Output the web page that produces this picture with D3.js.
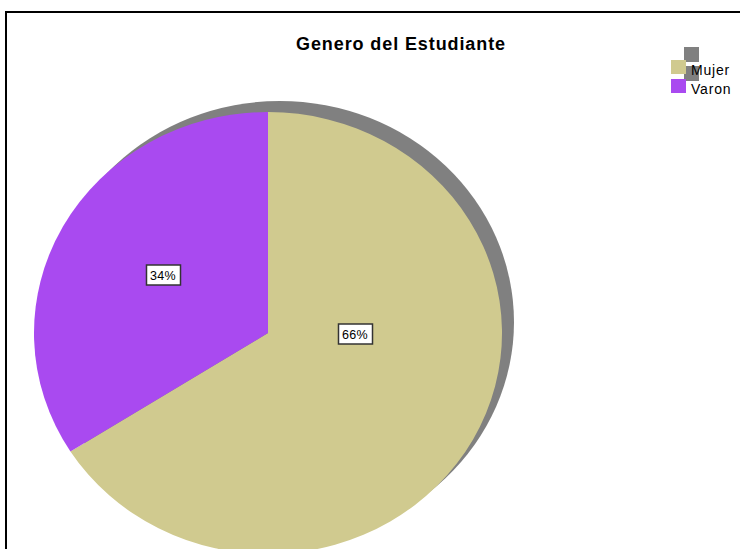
<!DOCTYPE html>
<html>
<head>
<meta charset="utf-8">
<script src="https://cdn.jsdelivr.net/npm/d3@7"></script>
<style>
  body { margin: 0; background: #fff; }
  text { font-family: "Liberation Sans", Arial, sans-serif; }
</style>
</head>
<body>
<div id="chart"></div>
<script>
// data
var categories = ['Mujer', 'Varon'];
var percents = [66, 34];
var colors = ['#D0CA8F', '#A94AF0'];

var svgWidth = 740;
var svgHeight = 549;

var svg = d3.select('#chart')
  .append('svg')
  .attr('width', svgWidth)
  .attr('height', svgHeight);

// frame
svg.append('rect')
  .attr('x', 6)
  .attr('y', 12)
  .attr('width', 800)
  .attr('height', 700)
  .attr('fill', 'none')
  .attr('stroke', '#000')
  .attr('stroke-width', 2);

// title
svg.append('text')
  .attr('x', 401)
  .attr('y', 50)
  .attr('text-anchor', 'middle')
  .attr('font-size', '18px')
  .attr('font-weight', 'bold')
  .attr('letter-spacing', '0.9px')
  .text('Genero del Estudiante');

// pie layout (ellipse: rx 234, ry 221)
var cx = 268, cy = 333;
var rx = 234, ry = 221;

var pie = d3.pie().sort(null).value(d => d);
var arcs = pie(percents);
var arc = d3.arc().innerRadius(0).outerRadius(ry);

// shadow
svg.append('ellipse')
  .attr('cx', cx + 12)
  .attr('cy', cy - 11)
  .attr('rx', rx)
  .attr('ry', ry)
  .attr('fill', '#808080');

var pieGroup = svg.append('g')
  .attr('transform', `translate(${cx}, ${cy}) scale(${rx / ry}, 1)`);

pieGroup.selectAll('path')
  .data(arcs)
  .enter()
  .append('path')
  .attr('d', arc)
  .attr('fill', (d, i) => colors[i]);

// percent labels (offsets from the centre, as placed in the original)
var labelOffsets = [[87, 1], [-105, -58]];
var labels = svg.selectAll('g.plabel')
  .data(arcs)
  .enter()
  .append('g')
  .attr('class', 'plabel')
  .attr('transform', (d, i) => `translate(${cx + labelOffsets[i][0]}, ${cy + labelOffsets[i][1]})`);

labels.append('rect')
  .attr('x', -16.5)
  .attr('y', -10)
  .attr('width', 34)
  .attr('height', 20)
  .attr('fill', '#fff')
  .attr('stroke', '#333')
  .attr('stroke-width', 1.5);

labels.append('text')
  .attr('text-anchor', 'middle')
  .attr('y', 4.5)
  .attr('font-size', '12.5px')
  .attr('letter-spacing', '0.4px')
  .text(d => d.data + '%');

// legend: shadows first, then swatches, then text on top
var legend = svg.append('g')
  .attr('transform', 'translate(671, 60)');

var rowY = i => i * 19;

legend.selectAll('rect.shadow')
  .data(categories)
  .enter()
  .append('rect')
  .attr('class', 'shadow')
  .attr('x', 13)
  .attr('y', (d, i) => rowY(i) - 13)
  .attr('width', 15)
  .attr('height', 15)
  .attr('fill', '#808080');

legend.selectAll('rect.swatch')
  .data(categories)
  .enter()
  .append('rect')
  .attr('class', 'swatch')
  .attr('y', (d, i) => rowY(i))
  .attr('width', 15)
  .attr('height', 14)
  .attr('fill', (d, i) => colors[i]);

legend.selectAll('text')
  .data(categories)
  .enter()
  .append('text')
  .attr('x', 20)
  .attr('y', (d, i) => rowY(i) + 15)
  .attr('font-size', '14px')
  .attr('letter-spacing', '0.8px')
  .text(d => d);
</script>
</body>
</html>
